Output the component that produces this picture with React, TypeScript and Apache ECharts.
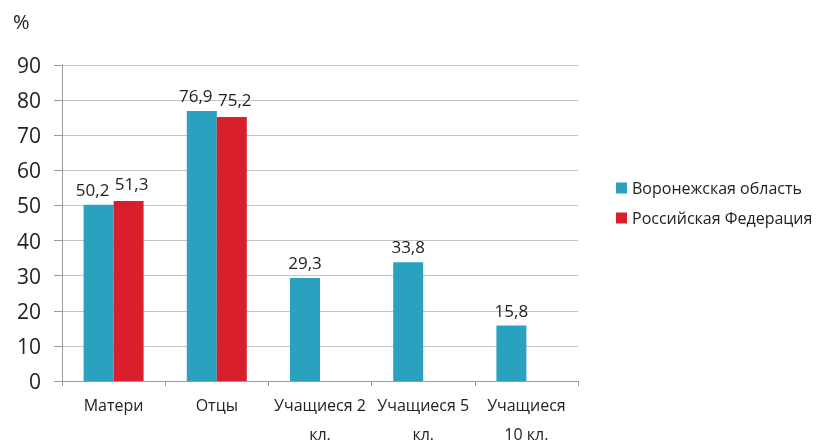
import React, { useEffect, useRef } from "react";
import * as echarts from "echarts";

const categories = ["Матери", "Отцы", "Учащиеся 2 кл.", "Учащиеся 5 кл.", "Учащиеся 10 кл."];
const categoryLabels = ["Матери", "Отцы", "Учащиеся 2\nкл.", "Учащиеся 5\nкл.", "Учащиеся\n10 кл."];
const voronezh = [50.2, 76.9, 29.3, 33.8, 15.8];
const russia: (number | null)[] = [51.3, 75.2, null, null, null];
const seriesNames = ["Воронежская область", "Российская Федерация"];
const yTicks = { min: 0, max: 90, interval: 10 };

const FONT = "Open Sans";

export default function App() {
  const ref = useRef<HTMLDivElement>(null);
  useEffect(() => {
    if (!ref.current) return;
    const chart = echarts.init(ref.current, undefined, { renderer: "svg" });
    const labelMap: Record<string, string> = {};
    categories.forEach((c, i) => (labelMap[c] = categoryLabels[i]));
    const fmt = (p: any) => String(p.value).replace(".", ",");
    const paired = (i: number) => russia[i] != null;
    const blueData = voronezh.map((v, i) =>
      paired(i) ? { value: v, label: { offset: [-6, 0] } } : v
    );
    const redData = russia.map((v) =>
      v != null ? { value: v, label: { offset: [3, -2] } } : null
    );
    chart.setOption({
      animation: false,
      textStyle: { fontFamily: FONT },
      grid: { left: 62, right: 257, top: 65, bottom: 60, containLabel: false },
      legend: {
        orient: "vertical",
        left: 611,
        top: 175,
        itemWidth: 11,
        itemHeight: 11,
        itemGap: 14,
        icon: "rect",
        textStyle: { fontSize: 16, color: "#222", fontFamily: FONT },
        data: seriesNames,
      },
      graphic: [
        {
          type: "text",
          left: 13,
          top: 11,
          style: { text: "%", fontSize: 20, fill: "#222", fontFamily: FONT },
        },
      ],
      xAxis: {
        type: "category",
        data: categories,
        axisLine: { lineStyle: { color: "#9a9a9a", width: 1 } },
        axisTick: { show: true, length: 5, lineStyle: { color: "#9a9a9a" } },
        axisLabel: {
          formatter: (v: string) => labelMap[v] ?? v,
          fontSize: 16,
          color: "#222",
          lineHeight: 29,
          margin: 9,
          interval: 0,
          fontFamily: FONT,
        },
      },
      yAxis: {
        type: "value",
        min: yTicks.min,
        max: yTicks.max,
        interval: yTicks.interval,
        axisLine: { show: true, lineStyle: { color: "#9a9a9a", width: 1 } },
        axisTick: { show: true, length: 8, lineStyle: { color: "#9a9a9a" } },
        splitLine: { lineStyle: { color: "#c4c4c4", width: 1 } },
        axisLabel: { fontSize: 21, color: "#222", margin: 21, fontFamily: FONT },
      },
      series: [
        {
          name: seriesNames[0],
          type: "bar",
          data: blueData,
          barWidth: 30,
          barGap: "0%",
          itemStyle: { color: "#2aa1bf" },
          label: { show: true, position: "top", distance: 7, fontSize: 17, color: "#222", formatter: fmt, fontFamily: FONT },
        },
        {
          name: seriesNames[1],
          type: "bar",
          data: redData,
          barWidth: 30,
          barGap: "0%",
          itemStyle: { color: "#d91f2b" },
          label: { show: true, position: "top", distance: 7, fontSize: 17, color: "#222", formatter: fmt, fontFamily: FONT },
        },
      ],
    });
    return () => chart.dispose();
  }, []);
  return (
    <div
      ref={ref}
      style={{ position: "fixed", left: 0, top: 0, width: 835, height: 448 }}
    />
  );
}
